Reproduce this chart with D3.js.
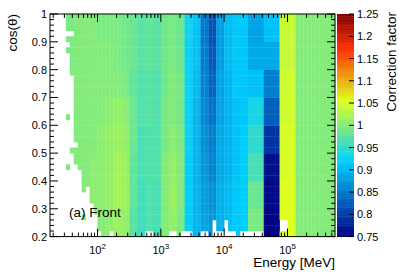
<!DOCTYPE html>
<html>
<head>
<meta charset="utf-8">
<script src="https://cdn.jsdelivr.net/npm/d3@7"></script>
<style>
  body { margin: 0; background: #fff; }
  svg { display: block; font-family: "Liberation Sans", Arial, sans-serif; }
</style>
</head>
<body>
<div id="chart"></div>
<script>
// log10(E/MeV) edges of the value columns
const logEdges = [1.25, 1.375, 1.5, 1.625, 1.75, 1.875, 2.0, 2.125, 2.25, 2.375, 2.5, 2.625, 2.75,
  2.875, 3.0, 3.125, 3.25, 3.375, 3.5, 3.625, 3.75, 3.875, 4.0, 4.125, 4.25, 4.375,
  4.625, 4.875, 5.125, 5.375, 5.625, 5.75];

// cos(theta) bands, top band first
const cosBands = [1.0, 0.9, 0.8, 0.7, 0.6, 0.5, 0.4, 0.3, 0.2];

// correction factor per band (rows) and energy column
const factorRows = [
  [1, 1, .995, 1, 1, 1, .995, .995, .995, .99, .985, .975, .98, .975, .99, .995, .985, .93, .91, .85, .82, .88, .905, .915, .915, .885, .91, 1.04, 1, 1, 1],
  [1, 1, .995, 1, 1, 1, 1, 1, .995, .99, .985, .975, .98, .975, .99, .995, .985, .925, .91, .855, .825, .88, .905, .915, .915, .89, .89, 1.04, 1, 1, 1],
  [1, 1, 1, 1, 1, 1, 1, 1, 1, .995, .98, .97, .975, .97, .99, 1, .99, .925, .905, .86, .835, .885, .9, .915, .915, .91, .855, 1.045, 1, 1, 1],
  [1, 1, 1, 1, 1, 1, 1, 1.005, 1.01, 1.005, .985, .97, .975, .97, .995, 1, .99, .925, .9, .865, .845, .885, .9, .91, .915, .935, .83, 1.045, 1, 1, 1],
  [1, 1, 1, 1, 1, 1, 1.005, 1.01, 1.015, 1.01, .985, .965, .97, .97, .995, 1.005, .995, .925, .9, .87, .855, .89, .9, .91, .92, .95, .795, 1.05, 1, 1, 1],
  [1, 1, 1, 1, 1, 1.005, 1.005, 1.01, 1.02, 1.015, .98, .965, .97, .97, 1, 1.01, 1, .92, .9, .875, .86, .89, .9, .91, .92, .965, .765, 1.05, 1, 1, 1],
  [1, 1, 1, 1, 1, 1.005, 1.005, 1.01, 1.02, 1.015, .98, .96, .97, .965, 1, 1.015, 1, .92, .9, .88, .87, .895, .905, .915, .92, .985, .76, 1.055, 1, 1, 1],
  [1, 1, 1, 1, 1, 1, 1, 1.005, 1.015, 1.01, .975, .96, .97, .965, 1, 1.01, .995, .92, .9, .885, .875, .895, .905, .915, .92, .995, .755, 1.055, 1, 1, 1]
];

// empty cells on the fine grid (1/16 decade x 0.02 in cos), rows counted from cos = 0.2
const firstFilled = [13, 12, 12, 12, 11, 11, 10, 10, 10, 8, 8, 8, 7, 6, 6, 5, 7, 6, 6, 6,
  6, 6, 6, 6, 6, 6, 6, 6, 6, 5, 5, 5, 5, 4, 5, 4, 6, 4, 4, 4];
const strayCells = [[21, 4], [12, 4], [8, 8], [3, 8]];
const holeCells = [[0, 15], [0, 24], [0, 25], [0, 30], [0, 31], [0, 33], [0, 34], [0, 35],
  [0, 38], [0, 39], [0, 41], [1, 41], [2, 41], [0, 42], [0, 43], [0, 44], [1, 44], [2, 44],
  [0, 45], [0, 46], [0, 48], [0, 49], [0, 50], [0, 51], [0, 52], [0, 53], [1, 58], [2, 58], [1, 59], [2, 59]];

const cosTicks = [0.2, 0.3, 0.4, 0.5, 0.6, 0.7, 0.8, 0.9, 1];
const energyTicks = [1e2, 1e3, 1e4, 1e5];
const factorTicks = [0.75, 0.8, 0.85, 0.9, 0.95, 1, 1.05, 1.1, 1.15, 1.2, 1.25];

const W = 399, H = 273;
const margin = {left: 50, right: 64, top: 14, bottom: 36};
const pw = W - margin.left - margin.right;
const ph = H - margin.top - margin.bottom - 0.4;

const svg = d3.select('#chart').append('svg')
  .attr('width', W)
  .attr('height', H);

const x = d3.scaleLog()
  .domain([Math.pow(10, 1.25), Math.pow(10, 5.75)])
  .range([0, pw]);
const y = d3.scaleLinear()
  .domain([0.2, 1])
  .range([ph, 0]);
const z = d3.scaleLinear()
  .domain([0.75, 1.25])
  .range([ph, 0]);

// ROOT style gradient palette
const nLevels = 99;
const pal = d3.scaleLinear()
  .domain([0, 0.34, 0.61, 0.84, 1])
  .range(['rgb(0,0,130)', 'rgb(0,207,255)', 'rgb(222,255,31)', 'rgb(255,51,0)', 'rgb(130,0,0)']);
function colour(v) {
  let lev = Math.floor((v - 0.75) / 0.5 * nLevels);
  lev = Math.max(0, Math.min(nLevels - 1, lev));
  return pal((lev + 0.5) / nLevels);
}

const chart = svg.append('g')
  .attr('transform', 'translate(' + margin.left + ',' + margin.top + ')');

// build fine cells
const stray = new Set(strayCells.map(d => d[0] + ':' + d[1]));
const holes = new Set(holeCells.map(d => d[0] + ':' + d[1]));
const nCols = 72, nRows = 40;
const cells = [];
for (let i = 0; i < nRows; i++) {
  for (let j = 0; j < nCols; j++) {
    const key = i + ':' + j;
    if ((j < firstFilled[i] && !stray.has(key)) || holes.has(key)) continue;
    const lo = 1.25 + j / 16, hi = 1.25 + (j + 1) / 16;
    const c0 = 0.2 + i * 0.02, c1 = c0 + 0.02;
    const col = d3.bisectRight(logEdges, (lo + hi) / 2) - 1;
    const band = cosBands.length - 2 - Math.floor(i / 5);
    cells.push({lo: lo, hi: hi, c0: c0, c1: c1, v: factorRows[band][col]});
  }
}

chart.append('g')
  .attr('class', 'cells')
  .selectAll('rect')
  .data(cells)
  .enter()
  .append('rect')
  .attr('x', d => x(Math.pow(10, d.lo)))
  .attr('width', d => x(Math.pow(10, d.hi)) - x(Math.pow(10, d.lo)) + 0.3)
  .attr('y', d => y(d.c1))
  .attr('height', d => y(d.c0) - y(d.c1) + 0.3)
  .style('fill', d => colour(d.v));

// frame
chart.append('rect')
  .attr('width', pw).attr('height', ph)
  .style('fill', 'none').style('stroke', '#000').style('stroke-width', 1);

// x ticks (bottom + top)
const minorE = [];
[10, 100, 1000, 10000, 100000].forEach(dec => {
  for (let m = 1; m < 10; m++) {
    const e = dec * m;
    if (e >= x.domain()[0] && e <= x.domain()[1] && m > 1) minorE.push(e);
  }
});
const ticksG = chart.append('g').attr('class', 'ticks').style('stroke', '#000').style('stroke-width', 1);
minorE.forEach(e => {
  ticksG.append('line').attr('x1', x(e)).attr('x2', x(e)).attr('y1', ph).attr('y2', ph - 4);
  ticksG.append('line').attr('x1', x(e)).attr('x2', x(e)).attr('y1', 0).attr('y2', 4);
});
energyTicks.forEach(e => {
  ticksG.append('line').attr('x1', x(e)).attr('x2', x(e)).attr('y1', ph).attr('y2', ph - 8);
  ticksG.append('line').attr('x1', x(e)).attr('x2', x(e)).attr('y1', 0).attr('y2', 8);
});

// y ticks (left + right)
const minorC = d3.range(0, 41).map(k => 0.2 + k * 0.02);
minorC.forEach(c => {
  const len = (Math.round(c * 50) % 5 === 0) ? 8 : 4;
  ticksG.append('line').attr('x1', 0).attr('x2', len).attr('y1', y(c)).attr('y2', y(c));
  ticksG.append('line').attr('x1', pw).attr('x2', pw - len).attr('y1', y(c)).attr('y2', y(c));
});

// tick labels
chart.append('g')
  .selectAll('text')
  .data(cosTicks)
  .enter()
  .append('text')
  .attr('x', -3)
  .attr('y', d => y(d) + 4)
  .attr('text-anchor', 'end')
  .style('font-size', '11px')
  .text(d => d3.format('~g')(d));

const xl = chart.append('g')
  .selectAll('text')
  .data(energyTicks)
  .enter()
  .append('text')
  .attr('x', d => x(d))
  .attr('y', ph + 17)
  .attr('text-anchor', 'middle')
  .style('font-size', '11px');
xl.append('tspan').text('10');
xl.append('tspan').attr('dy', -5).style('font-size', '8px').text(d => Math.round(Math.log10(d)));

// axis titles
svg.append('text')
  .attr('x', margin.left + pw)
  .attr('y', 267)
  .attr('text-anchor', 'end')
  .style('font-size', '13.5px')
  .text('Energy [MeV]');

svg.append('text')
  .attr('transform', 'translate(17,' + margin.top + ') rotate(-90)')
  .attr('text-anchor', 'end')
  .style('font-size', '13.5px')
  .text('cos(\u03b8)');

// colour bar
const barX = margin.left + pw + 2, barW = 17;
const bar = svg.append('g').attr('transform', 'translate(' + barX + ',' + margin.top + ')');
bar.selectAll('rect')
  .data(d3.range(nLevels))
  .enter()
  .append('rect')
  .attr('x', 0)
  .attr('width', barW)
  .attr('y', k => z(0.75 + (k + 1) * 0.5 / nLevels))
  .attr('height', ph / nLevels + 0.4)
  .style('fill', k => colour(0.75 + (k + 0.5) * 0.5 / nLevels));

bar.selectAll('line')
  .data(factorTicks)
  .enter()
  .append('line')
  .attr('x1', barW).attr('x2', barW - 5)
  .attr('y1', d => z(d)).attr('y2', d => z(d))
  .style('stroke', '#000');

bar.selectAll('text')
  .data(factorTicks)
  .enter()
  .append('text')
  .attr('x', barW + 3)
  .attr('y', d => z(d) + 4)
  .style('font-size', '11px')
  .text(d => d3.format('~g')(d));

svg.append('text')
  .attr('transform', 'translate(396,12) rotate(-90)')
  .attr('text-anchor', 'end')
  .style('font-size', '13.5px')
  .text('Correction factor');

// label
chart.append('text')
  .attr('x', 19)
  .attr('y', 203)
  .style('font-size', '13.5px')
  .text('(a) Front');
</script>
</body>
</html>
